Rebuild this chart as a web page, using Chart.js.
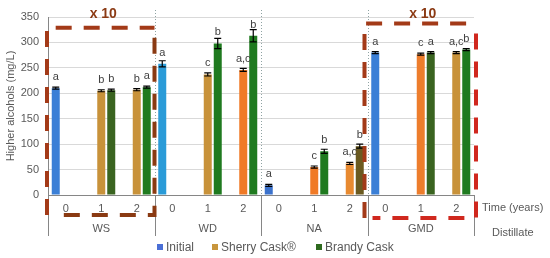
<!DOCTYPE html>
<html>
<head>
<meta charset="utf-8">
<script src="https://cdn.jsdelivr.net/npm/chart.js@4"></script>
<style>
  html, body { margin: 0; padding: 0; background: #fff; }
  #wrap { width: 550px; height: 258px; }
</style>
</head>
<body>
<div id="wrap"><canvas id="chart" width="550" height="258"></canvas></div>
<script>
const categories = ["0", "1", "2", "0", "1", "2", "0", "1", "2", "0", "1", "2"];
const distillates = ["WS", "WD", "NA", "GMD"];

const initial = [210, null, null, 258, null, null, 19, null, null, 280, null, null];
const sherry  = [null, 205, 207, null, 237, 246, null, 55, 62, null, 277, 280];
const brandy  = [null, 206, 212, null, 298, 313, null, 86, 96, null, 280, 286];

const initialErr = [2, 0, 0, 6, 0, 0, 2, 0, 0, 2, 0, 0];
const sherryErr  = [0, 2, 2, 0, 3, 3, 0, 2, 2, 0, 2, 2];
const brandyErr  = [0, 2, 2, 0, 10, 12, 0, 4, 4, 0, 2, 2];

const initialLetters = ["a", "", "", "a", "", "", "a", "", "", "a", "", ""];
const sherryLetters  = ["", "b", "b", "", "c", "a,c", "", "c", "a,c", "", "c", "a,c"];
const brandyLetters  = ["", "b", "a", "", "b", "b", "", "b", "b", "", "a", "b"];

const seriesNames = ["Initial", "Sherry Cask®", "Brandy Cask"];
const scaledGroups = [0, 3];   // groups drawn x 10

const FONT = "'Liberation Sans', Arial, sans-serif";
const GREY = "#595959";

const initialColors = ["#3b7fd6", null, null, "#2a9bd8", null, null, "#3b72cc", null, null, "#3b7fd6", null, null];
const sherryColors = [null, "#c8923a", "#c8923a", null, "#c8923a", "#f07a26", null, "#f07a26", "#e88a30", null, "#ed7d2c", "#c8923a"];
const brandyColors = [null, "#3a6420", "#1f7a1f", null, "#1f7a1f", "#1f7a1f", null, "#1f7a1f", "#6b5a20", null, "#3a6420", "#1f7a1f"];
const legendColors = ["#4a6fd6", "#c8963c", "#2e6a1e"];

const errLetters = [
    {err: initialErr, letters: initialLetters},
    {err: sherryErr, letters: sherryLetters},
    {err: brandyErr, letters: brandyErr && brandyLetters},
];

const extras = {
    id: "extras",
    afterDatasetsDraw(chart) {
        const ctx = chart.ctx;
        const y = chart.scales.y;
        ctx.save();
        errLetters.forEach((info, di) => {
            const meta = chart.getDatasetMeta(di);
            const vals = chart.data.datasets[di].data;
            meta.data.forEach((bar, i) => {
                if (vals[i] == null) return;
                const e = info.err[i];
                const yTop = y.getPixelForValue(vals[i] + e);
                const yBot = y.getPixelForValue(vals[i] - e);
                ctx.strokeStyle = "#000";
                ctx.lineWidth = 1.2;
                ctx.beginPath();
                ctx.moveTo(bar.x, yTop);
                ctx.lineTo(bar.x, yBot);
                ctx.moveTo(bar.x - 3.5, yTop);
                ctx.lineTo(bar.x + 3.5, yTop);
                ctx.moveTo(bar.x - 3.5, yBot);
                ctx.lineTo(bar.x + 3.5, yBot);
                ctx.stroke();
                ctx.fillStyle = "#404040";
                ctx.font = "11px " + FONT;
                ctx.textAlign = "center";
                ctx.textBaseline = "middle";
                ctx.fillText(info.letters[i], bar.x, bar.y - 11);
            });
        });
        ctx.restore();
    },
    afterDraw(chart) {
        const ctx = chart.ctx;
        const area = chart.chartArea;
        const x = chart.scales.x;
        const y = chart.scales.y;
        const edges = [area.left];
        for (let g = 1; g < distillates.length; g++)
            edges.push((x.getPixelForValue(g * 3 - 1) + x.getPixelForValue(g * 3)) / 2);
        edges.push(area.right);

        ctx.save();
        // dotted group dividers inside the plot
        ctx.strokeStyle = "#8fa3a3";
        ctx.lineWidth = 1;
        ctx.setLineDash([1, 2]);
        for (let g = 1; g < distillates.length; g++) {
            const ex = Math.round(edges[g]) + 0.5;
            ctx.beginPath();
            ctx.moveTo(ex, area.top - 7);
            ctx.lineTo(ex, area.bottom);
            ctx.stroke();
        }
        ctx.setLineDash([]);

        // solid separators below the axis
        ctx.strokeStyle = "#868686";
        edges.forEach(ex => {
            ex = Math.round(ex) + 0.5;
            ctx.beginPath();
            ctx.moveTo(ex, area.bottom);
            ctx.lineTo(ex, area.bottom + 41);
            ctx.stroke();
        });

        // group names
        ctx.fillStyle = GREY;
        ctx.font = "11px " + FONT;
        ctx.textAlign = "center";
        ctx.textBaseline = "middle";
        distillates.forEach((d, g) => {
            ctx.fillText(d, (edges[g] + edges[g + 1]) / 2, area.bottom + 34);
        });
        ctx.textAlign = "left";
        ctx.fillText("Time (years)", area.right + 8, area.bottom + 13);
        ctx.fillText("Distillate", area.right + 18, area.bottom + 38);

        // legend
        ctx.font = "12px " + FONT;
        const legendX = [157, 212, 316];
        seriesNames.forEach((name, i) => {
            ctx.fillStyle = legendColors[i];
            ctx.fillRect(legendX[i], 244, 6, 6);
            ctx.fillStyle = GREY;
            ctx.fillText(name, legendX[i] + 9, 247.5);
        });

        // "x 10" dashed boxes
        ctx.lineWidth = 4;
        ctx.setLineDash([16, 12]);
        scaledGroups.forEach((g, k) => {
            const left = edges[g] - 1 - (k ? 2 : 0);
            const right = edges[g + 1] + (k ? 2 : 0);
            const top = y.getPixelForValue(k ? 337 : 329);
            const bottom = area.bottom + (k ? 23 : 20);
            ctx.strokeStyle = "#a33a18";
            ctx.beginPath();
            ctx.moveTo(left, bottom);
            ctx.lineTo(left, top);
            ctx.lineTo(right, top);
            ctx.stroke();
            ctx.strokeStyle = k ? "#d0281e" : "#8a3a12";
            ctx.beginPath();
            ctx.moveTo(right, top + 10);
            ctx.lineTo(right, bottom);
            ctx.lineTo(left + 8, bottom);
            ctx.stroke();
            ctx.fillStyle = "#8b3a14";
            ctx.font = "bold 14px " + FONT;
            ctx.textAlign = "center";
            ctx.fillText("x 10", (edges[g] + edges[g + 1]) / 2 + 2, 14);
        });
        ctx.restore();
    }
};

new Chart(document.getElementById("chart"), {
    type: "bar",
    data: {
        labels: categories,
        datasets: [
            {label: seriesNames[0], data: initial, backgroundColor: initialColors},
            {label: seriesNames[1], data: sherry, backgroundColor: sherryColors},
            {label: seriesNames[2], data: brandy, backgroundColor: brandyColors},
        ]
    },
    options: {
        responsive: false,
        animation: false,
        categoryPercentage: 0.845,
        barPercentage: 0.8,
        layout: {padding: {left: 0, right: 76, top: 17, bottom: 0}},
        plugins: {legend: {display: false}, tooltip: {enabled: false}},
        scales: {
            x: {
                grid: {color: "transparent", drawTicks: false},
                border: {display: true, color: "#868686", width: 1},
                ticks: {color: GREY, font: {family: FONT, size: 11}, padding: 7, maxRotation: 0, autoSkip: false},
                afterFit: (scale) => { scale.height = 63; }
            },
            y: {
                min: 0,
                max: 350,
                ticks: {stepSize: 50, color: GREY, font: {family: FONT, size: 11}, padding: 9},
                grid: {color: "#d9d9d9", drawTicks: false},
                border: {display: true, color: "#868686", width: 1},
                title: {display: true, text: "Higher alcohols (mg/L)", color: GREY,
                        font: {family: FONT, size: 11}, padding: {top: 4, bottom: 0}},
                afterFit: (scale) => { scale.width = 48; }
            }
        }
    },
    plugins: [extras]
});
</script>
</body>
</html>
